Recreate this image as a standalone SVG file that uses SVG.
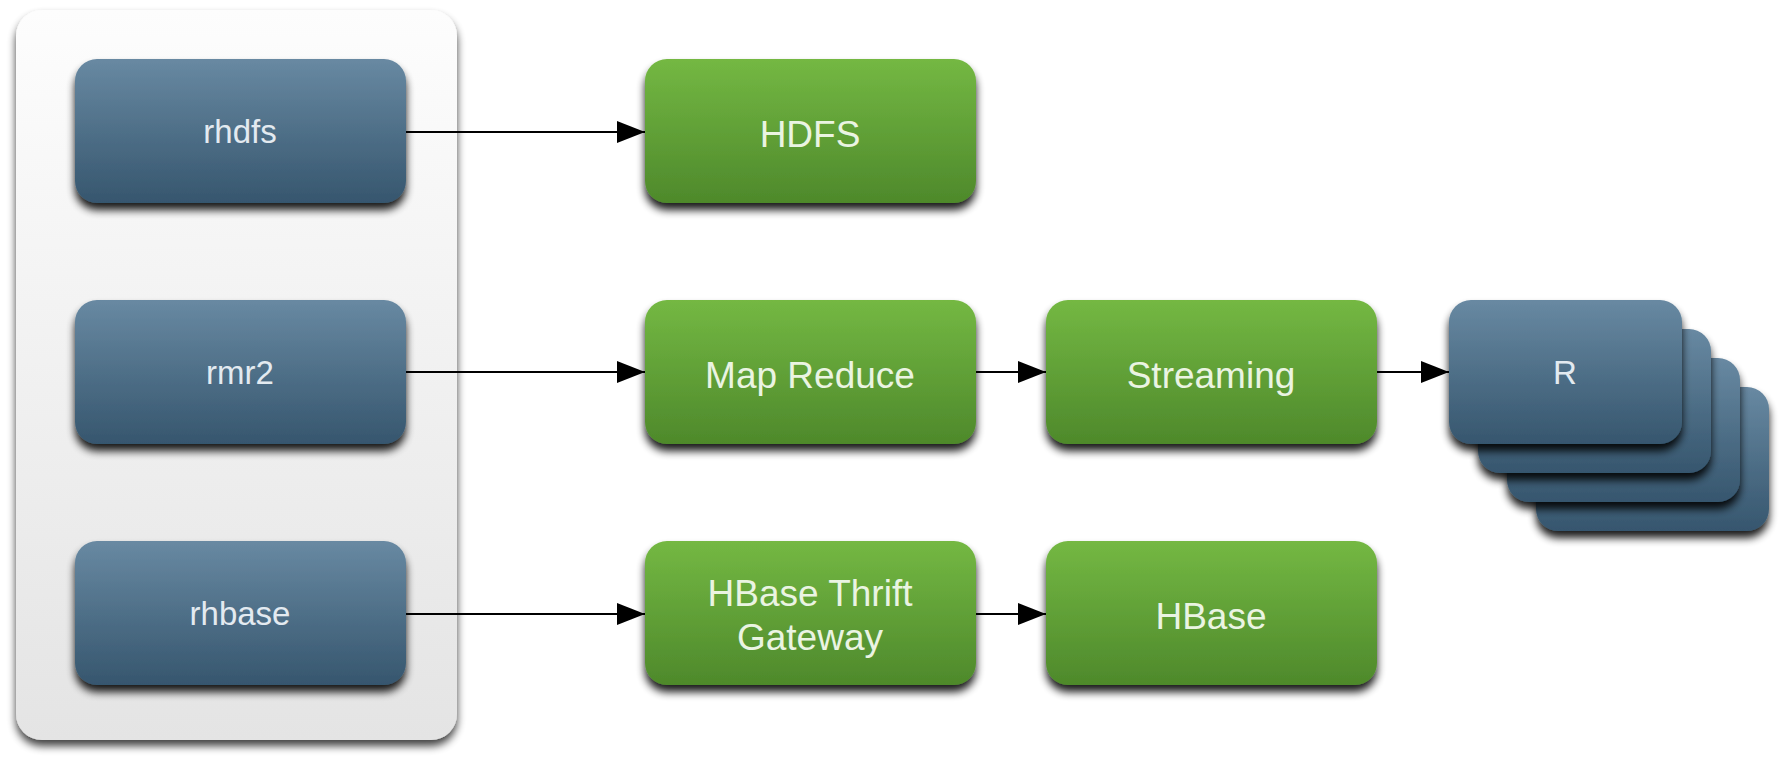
<svg xmlns="http://www.w3.org/2000/svg" width="1783" height="761" viewBox="0 0 1783 761">
<defs>
<linearGradient id="gBlue" x1="0" y1="0" x2="0" y2="1">
<stop offset="0" stop-color="#6889a2"/>
<stop offset="1" stop-color="#36566e"/>
</linearGradient>
<linearGradient id="gGreen" x1="0" y1="0" x2="0" y2="1">
<stop offset="0" stop-color="#74b843"/>
<stop offset="1" stop-color="#4e892b"/>
</linearGradient>
<linearGradient id="gPanel" x1="0" y1="0" x2="0" y2="1">
<stop offset="0" stop-color="#fdfdfd"/>
<stop offset="1" stop-color="#e4e4e4"/>
</linearGradient>
<filter id="shadow" x="-20%" y="-20%" width="140%" height="150%">
<feGaussianBlur in="SourceAlpha" stdDeviation="4"/>
<feOffset dx="0" dy="7" result="b"/>
<feComponentTransfer><feFuncA type="linear" slope="0.9"/></feComponentTransfer>
<feMerge><feMergeNode/><feMergeNode in="SourceGraphic"/></feMerge>
</filter>
<filter id="pshadow" x="-10%" y="-5%" width="120%" height="110%">
<feGaussianBlur in="SourceAlpha" stdDeviation="4"/>
<feOffset dx="0" dy="6" result="b"/>
<feComponentTransfer><feFuncA type="linear" slope="0.75"/></feComponentTransfer>
<feMerge><feMergeNode/><feMergeNode in="SourceGraphic"/></feMerge>
</filter>
<marker id="arrow" markerWidth="28" markerHeight="22" refX="28" refY="11" orient="auto" markerUnits="userSpaceOnUse">
<path d="M0,0 L28,11 L0,22 Z" fill="#000"/>
</marker>
<style>
.blue{fill:url(#gBlue);filter:url(#shadow);}
.green{fill:url(#gGreen);filter:url(#shadow);}
.tb{font-family:"Liberation Sans",Arial,sans-serif;font-size:33px;fill:#e3eaf0;text-anchor:middle;}
.tg{font-family:"Liberation Sans",Arial,sans-serif;font-size:37px;fill:#eaf4e2;text-anchor:middle;}
.conn{stroke:#000;stroke-width:2.2;fill:none;marker-end:url(#arrow);}
</style>
</defs>
<rect width="1783" height="761" fill="#fff"/>
<g id="panel">
<rect x="16" y="10" width="441" height="730" rx="26" fill="url(#gPanel)" filter="url(#pshadow)"/>
</g>
<g id="connectors">
<line class="conn" x1="406" y1="132" x2="645" y2="132"/>
<line class="conn" x1="406" y1="372" x2="645" y2="372"/>
<line class="conn" x1="976" y1="372" x2="1046" y2="372"/>
<line class="conn" x1="1377" y1="372" x2="1449" y2="372"/>
<line class="conn" x1="406" y1="614" x2="645" y2="614"/>
<line class="conn" x1="976" y1="614" x2="1046" y2="614"/>
</g>
<g id="rhdfs">
<rect class="blue" x="75" y="59" width="331" height="144" rx="22"/>
<text class="tb" x="240" y="143">rhdfs</text>
</g>
<g id="rmr2">
<rect class="blue" x="75" y="300" width="331" height="144" rx="22"/>
<text class="tb" x="240" y="384">rmr2</text>
</g>
<g id="rhbase">
<rect class="blue" x="75" y="541" width="331" height="144" rx="22"/>
<text class="tb" x="240" y="625">rhbase</text>
</g>
<g id="hdfs">
<rect class="green" x="645" y="59" width="331" height="144" rx="22"/>
<text class="tg" x="810" y="147">HDFS</text>
</g>
<g id="mapreduce">
<rect class="green" x="645" y="300" width="331" height="144" rx="22"/>
<text class="tg" x="810" y="388">Map Reduce</text>
</g>
<g id="streaming">
<rect class="green" x="1046" y="300" width="331" height="144" rx="22"/>
<text class="tg" x="1211" y="388">Streaming</text>
</g>
<g id="hbasethrift">
<rect class="green" x="645" y="541" width="331" height="144" rx="22"/>
<text class="tg" x="810" y="606">HBase Thrift</text>
<text class="tg" x="810" y="650">Gateway</text>
</g>
<g id="hbase">
<rect class="green" x="1046" y="541" width="331" height="144" rx="22"/>
<text class="tg" x="1211" y="629">HBase</text>
</g>
<g id="r">
<rect class="blue" x="1536" y="387" width="233" height="144" rx="22"/>
<rect class="blue" x="1507" y="358" width="233" height="144" rx="22"/>
<rect class="blue" x="1478" y="329" width="233" height="144" rx="22"/>
<rect class="blue" x="1449" y="300" width="233" height="144" rx="22"/>
<text class="tb" x="1565" y="384">R</text>
</g>
</svg>
